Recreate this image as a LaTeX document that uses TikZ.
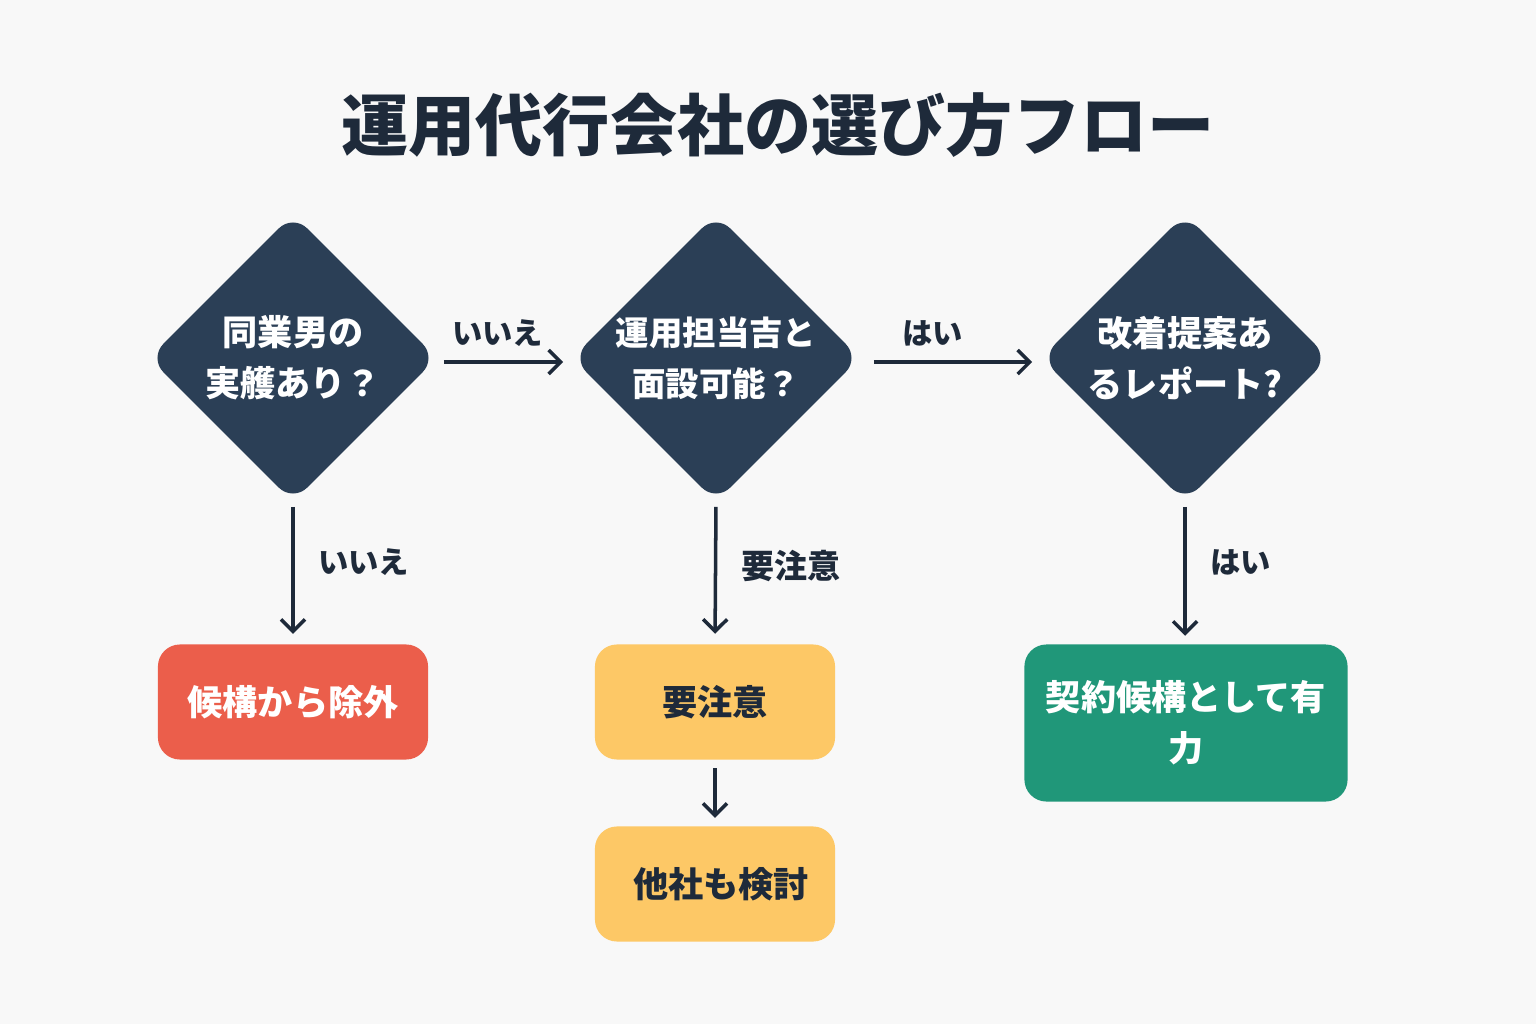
\documentclass[tikz,border=0pt]{standalone}
\usepackage{fontspec}
\setmainfont{Noto Sans CJK JP}
\usetikzlibrary{shapes.geometric,arrows.meta}
\definecolor{bgcol}{HTML}{F8F8F8}
\definecolor{navy}{HTML}{2B3F56}
\definecolor{ink}{HTML}{1E2A3A}
\definecolor{redbox}{HTML}{EB5E4B}
\definecolor{yellowbox}{HTML}{FDC866}
\definecolor{greenbox}{HTML}{209779}
\begin{document}
\begin{tikzpicture}[x=0.01cm,y=-0.01cm,
    decision/.style={diamond, aspect=1, fill=navy, minimum width=2.88cm, minimum height=2.88cm, inner sep=0pt, rounded corners=0.2cm},
    qtext/.style={text=white, align=center, font=\bfseries\fontsize{10}{14.5}\selectfont},
    result/.style={rectangle, rounded corners=0.22cm, minimum height=1.15cm, align=center, font=\bfseries\fontsize{10}{14.5}\selectfont},
    flow/.style={draw=ink, line width=1pt, -{Straight Barb[length=1.2mm,width=2.4mm]}},
    tag/.style={text=ink, font=\bfseries\fontsize{8.6}{10}\selectfont}]
\useasboundingbox[fill=bgcol] (0,0) rectangle (1536,1024);

% title
\node (title) at (778,125) [text=ink, font=\bfseries\fontsize{19.1}{23}\selectfont] {運用代行会社の選び方フロー};

% questions
\node (q1) at (293,358) [decision] {};
\node (q2) at (716,358) [decision] {};
\node (q3) at (1185,358) [decision] {};
\node (q1t) at (q1.center) [qtext] {同業男の\\実艧あり？};
\node (q2t) at (q2.center) [qtext, font=\bfseries\fontsize{9.5}{14.5}\selectfont] {運用担当吉と\\面設可能？};
\node (q3t) at (q3.center) [qtext] {改着提案あ\\るレポート?};

% results
\node (r1) at (293,702) [result, fill=redbox, text=white, minimum width=2.70cm] {候構から除外};
\node (r2) at (715,702) [result, fill=yellowbox, text=ink, minimum width=2.40cm] {要注意};
\node (r3) at (715,884) [result, fill=yellowbox, text=ink, minimum width=2.40cm] {\hspace{0.12cm}他社も検討};
\node (r4) at (1186,723) [result, fill=greenbox, text=white, minimum width=3.23cm, minimum height=1.57cm] {\rule{0pt}{0.3cm}契約候構として有\\力};

% arrows
\draw[flow, shorten <=0.06cm, shorten >=0.08cm] (q1.east |- 0,362) -- (q2.west |- 0,362) node[pos=0.45, above=0.02cm, tag] (l1) {いいえ};
\draw[flow, shorten <=0.13cm, shorten >=0.08cm] (q2.east |- 0,362) -- (q3.west |- 0,362) node[pos=0.4, above=0.02cm, tag] (l2) {はい};
\draw[flow, shorten <=0.04cm, shorten >=0.1cm] (q1.south) -- (r1.north) node[pos=0.42, right=0.12cm, tag] (l3) {いいえ};
\draw[flow, shorten <=0.04cm, shorten >=0.1cm] (q2.south) -- (r2.north) node[pos=0.45, right=0.12cm, tag, font=\bfseries\fontsize{9.4}{10}\selectfont] (l4) {要注意};
\draw[flow, shorten <=0.04cm, shorten >=0.08cm] (q3.south) -- (q3.south |- r4.north) node[pos=0.42, right=0.12cm, tag] (l5) {はい};
\draw[flow, shorten <=0.08cm, shorten >=0.08cm] (r2.south) -- (r3.north);
\end{tikzpicture}
\end{document}
